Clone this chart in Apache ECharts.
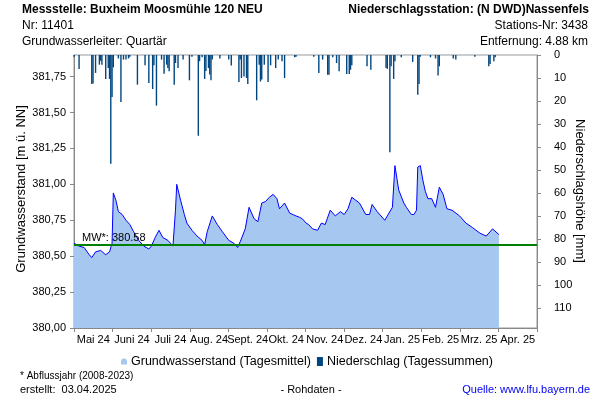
<!DOCTYPE html>
<html><head><meta charset="utf-8">
<script src="https://cdn.jsdelivr.net/npm/echarts@6/dist/echarts.min.js"></script>
<style>html,body{margin:0;padding:0;background:#fff}#c{width:600px;height:400px}</style>
</head><body><div id="c"></div>
<script>
// Month labels (category axis, centred between month boundaries)
const monthLabels = ['Mai 24','Juni 24','Juli 24','Aug. 24','Sept. 24','Okt. 24','Nov. 24','Dez. 24','Jan. 25','Feb. 25','Mrz. 25','Apr. 25'];

// Groundwater level (daily mean), m ü. NN
const gwDates = ['2024-05-01','2024-05-05','2024-05-09','2024-05-13','2024-05-15','2024-05-18','2024-05-22','2024-05-26','2024-05-29','2024-05-31',
'2024-06-01','2024-06-03','2024-06-05','2024-06-08','2024-06-11','2024-06-14','2024-06-17','2024-06-21','2024-06-25','2024-06-29',
'2024-07-01','2024-07-04','2024-07-07','2024-07-10','2024-07-14','2024-07-16','2024-07-18','2024-07-20','2024-07-21','2024-07-24','2024-07-27','2024-07-29',
'2024-08-02','2024-08-06','2024-08-10','2024-08-12','2024-08-14','2024-08-18','2024-08-22','2024-08-26','2024-08-31',
'2024-09-04','2024-09-07','2024-09-09','2024-09-13','2024-09-16','2024-09-20','2024-09-23','2024-09-26','2024-09-29',
'2024-10-02','2024-10-05','2024-10-08','2024-10-10','2024-10-14','2024-10-18','2024-10-23','2024-10-26','2024-10-28','2024-10-31',
'2024-11-02','2024-11-05','2024-11-09','2024-11-12','2024-11-15','2024-11-19','2024-11-23','2024-11-27','2024-11-30',
'2024-12-03','2024-12-06','2024-12-09','2024-12-12','2024-12-17','2024-12-20','2024-12-22','2024-12-26',
'2025-01-01','2025-01-03','2025-01-07','2025-01-09','2025-01-12','2025-01-16','2025-01-18','2025-01-22','2025-01-24','2025-01-26','2025-01-27','2025-01-29','2025-01-31',
'2025-02-02','2025-02-04','2025-02-07','2025-02-10','2025-02-13','2025-02-16','2025-02-19','2025-02-23',
'2025-03-01','2025-03-06','2025-03-11','2025-03-17','2025-03-22','2025-03-27','2025-04-01'];
const gwValues = [380.59,380.57,380.56,380.51,380.49,380.53,380.54,380.51,380.53,380.59,
380.94,380.89,380.81,380.79,380.75,380.72,380.67,380.61,380.57,380.55,
380.57,380.63,380.68,380.63,380.61,380.59,380.57,380.82,381.00,380.89,380.79,380.73,
380.68,380.64,380.61,380.58,380.67,380.78,380.72,380.67,380.61,
380.59,380.56,380.60,380.69,380.84,380.76,380.74,380.87,380.88,
380.91,380.93,380.90,380.83,380.87,380.80,380.78,380.77,380.76,380.73,
380.72,380.69,380.68,380.73,380.72,380.82,380.78,380.81,380.79,
380.83,380.91,380.89,380.87,380.79,380.79,380.86,380.81,
380.75,380.78,380.84,381.13,380.96,380.87,380.84,380.79,380.79,380.82,381.12,381.13,381.03,
380.95,380.90,380.90,380.84,380.98,380.93,380.83,380.82,
380.78,380.73,380.70,380.66,380.64,380.69,380.65];

// Precipitation (daily sums), mm
const precipDates = ['2024-05-01','2024-05-05','2024-05-15','2024-05-16','2024-05-18','2024-05-21','2024-05-22','2024-05-23','2024-05-26','2024-05-28','2024-05-29','2024-05-30','2024-05-31',
'2024-06-01','2024-06-05','2024-06-07','2024-06-09','2024-06-11','2024-06-13','2024-06-14','2024-06-20','2024-06-26','2024-06-29',
'2024-07-02','2024-07-03','2024-07-05','2024-07-09','2024-07-11','2024-07-13','2024-07-14','2024-07-15','2024-07-19','2024-07-20','2024-07-22','2024-07-26','2024-07-31',
'2024-08-02','2024-08-07','2024-08-08','2024-08-10','2024-08-12','2024-08-13','2024-08-15','2024-08-16','2024-08-17','2024-08-18','2024-08-24','2024-08-31',
'2024-09-02','2024-09-08','2024-09-09','2024-09-10','2024-09-12','2024-09-14','2024-09-15','2024-09-22','2024-09-24','2024-09-25','2024-09-26','2024-09-28',
'2024-10-01','2024-10-03','2024-10-07','2024-10-09','2024-10-12','2024-10-14','2024-10-22','2024-10-23',
'2024-11-06','2024-11-10','2024-11-13','2024-11-17','2024-11-18','2024-11-21','2024-11-24','2024-11-26',
'2024-12-02','2024-12-04','2024-12-05','2024-12-06','2024-12-18','2024-12-21',
'2025-01-02','2025-01-03','2025-01-05','2025-01-06','2025-01-08','2025-01-09','2025-01-14','2025-01-23','2025-01-27','2025-01-28','2025-01-29',
'2025-02-06','2025-02-10','2025-02-12','2025-02-13','2025-02-24','2025-02-26',
'2025-03-13','2025-03-24','2025-03-25','2025-03-28','2025-03-29'];
const precipValues = [0.8,6.1,12.6,12.4,7.8,4.2,2.5,4.2,10.4,5.7,10.4,47.3,18.3,
5.4,1.5,20.4,2.0,2.0,1.5,0.8,12.9,4.5,12.2,
14.8,4.5,22.0,2.0,8.1,4.2,5.7,7.1,12.9,3.5,5.7,2.0,11.0,
0.8,35.1,2.7,1.0,10.4,7.0,5.7,8.5,11.0,2.0,1.5,2.0,
4.6,11.7,2.0,10.0,9.3,10.0,12.6,19.7,4.2,11.5,10.7,4.2,
11.7,4.5,5.7,2.0,2.7,10.0,1.0,0.8,
0.8,7.8,2.0,8.6,8.6,1.0,3.5,7.1,
8.3,8.3,6.4,4.5,4.9,6.4,
5.7,6.0,42.3,4.9,10.4,2.7,1.0,3.0,17.3,12.6,0.8,
1.0,1.5,8.9,4.9,1.5,2.0,
0.8,4.9,3.9,2.7,1.0];

const meanValue = 380.58;
const periodStart = '2024-05-01';
const periodEnd = '2025-05-01';

const FONT = '"Liberation Sans", Arial, sans-serif';
const t = s => Date.parse(s);
const gwData = gwDates.map((d, i) => [t(d), gwValues[i]]);
const prData = precipDates.map((d, i) => [t(d), precipValues[i]]);

const chart = echarts.init(document.getElementById('c'), null, {renderer: 'canvas'});
const txt = (x, y, text, opts, extra) => Object.assign({type: 'text', x: x, y: y, silent: true,
  style: Object.assign({text: text, fill: '#000', fontFamily: FONT, fontSize: 12, verticalAlign: 'middle', align: 'left'}, opts || {})}, extra || {});

chart.setOption({
  animation: false,
  textStyle: {fontFamily: FONT},
  grid: {left: 74, right: 63, top: 55, bottom: 72, show: true, borderColor: '#999', borderWidth: 1, backgroundColor: 'transparent'},
  xAxis: [
    {type: 'value', min: t(periodStart), max: t(periodEnd), show: false, scale: true},
    {type: 'category', data: monthLabels, boundaryGap: true, position: 'bottom',
     axisLine: {lineStyle: {color: '#888'}},
     axisTick: {show: true, length: 4, lineStyle: {color: '#888'}},
     axisLabel: {color: '#000', fontSize: 11, fontFamily: FONT, margin: 6, interval: 0},
     splitLine: {show: false}}
  ],
  yAxis: [
    {type: 'value', min: 380, max: 381.9, interval: 0.25, position: 'left',
     axisLine: {show: true, lineStyle: {color: '#888'}},
     axisTick: {show: true, length: 4, lineStyle: {color: '#888'}},
     axisLabel: {color: '#000', fontSize: 11, fontFamily: FONT, margin: 8, showMaxLabel: false,
       formatter: v => v.toFixed(2).replace('.', ',')},
     splitLine: {show: false}},
    {type: 'value', min: 0, max: 118.7, interval: 10, inverse: true, position: 'right',
     axisLine: {show: true, lineStyle: {color: '#888'}},
     axisTick: {show: true, length: 4, lineStyle: {color: '#888'}},
     axisLabel: {color: '#000', fontSize: 11, fontFamily: FONT, margin: 17, showMaxLabel: false},
     splitLine: {show: false}}
  ],
  legend: {
    top: 350, left: 116, itemGap: 6, itemWidth: 6, itemHeight: 9,
    textStyle: {color: '#000', fontSize: 12.5, fontFamily: FONT, padding: [0, 0, 0, -1]},
    data: [
      {name: 'Grundwasserstand (Tagesmittel)', icon: 'path://M0,10 L0,5 Q0,0 5,0 Q10,0 10,5 L10,10 Z', itemStyle: {color: '#a6c7ef'}},
      {name: 'Niederschlag (Tagessummen)', icon: 'rect', itemStyle: {color: '#004680'}}
    ]
  },
  series: [
    {name: 'Grundwasserstand (Tagesmittel)', type: 'line', xAxisIndex: 0, yAxisIndex: 0, data: gwData,
     symbol: 'none', smooth: false,
     lineStyle: {color: '#0000ff', width: 1},
     itemStyle: {color: '#a6c7ef'},
     areaStyle: {color: '#a6c7ef', opacity: 1, origin: 'start'},
     markLine: {silent: true, symbol: ['none', 'none'],
       lineStyle: {color: '#008000', width: 2, type: 'solid'},
       label: {show: true, position: 'insideStartTop', formatter: 'MW*: ' + meanValue.toFixed(2),
         color: '#000', fontSize: 11, fontFamily: FONT, distance: [8, 1]},
       data: [{yAxis: meanValue}]},
     z: 2},
    {name: 'Niederschlag (Tagessummen)', type: 'bar', xAxisIndex: 0, yAxisIndex: 1, data: prData,
     barWidth: 1.4, itemStyle: {color: '#004680'}, z: 3}
  ],
  graphic: [
    txt(22, 10, 'Messstelle: Buxheim Moosmühle 120 NEU', {fontWeight: 'bold'}),
    txt(22, 26, 'Nr: 11401'),
    txt(22, 42, 'Grundwasserleiter: Quartär'),
    txt(589, 10, 'Niederschlagsstation: (N DWD)Nassenfels', {fontWeight: 'bold', align: 'right'}),
    txt(588, 26, 'Stations-Nr: 3438', {align: 'right'}),
    txt(588, 42, 'Entfernung: 4.88 km', {align: 'right'}),
    txt(21, 189, 'Grundwasserstand [m ü. NN]', {fontSize: 13, align: 'center'}, {rotation: Math.PI / 2}),
    txt(580, 191, 'Niederschlagshöhe [mm]', {fontSize: 13, align: 'center'}, {rotation: -Math.PI / 2}),
    txt(20, 376, '* Abflussjahr (2008-2023)', {fontSize: 10}),
    txt(20, 390, 'erstellt:  03.04.2025', {fontSize: 11}),
    txt(311, 390, '- Rohdaten -', {fontSize: 11, align: 'center'}),
    txt(590, 390, 'Quelle: www.lfu.bayern.de', {fontSize: 11, align: 'right', fill: '#0000ee'})
  ]
});
</script>
</body></html>
